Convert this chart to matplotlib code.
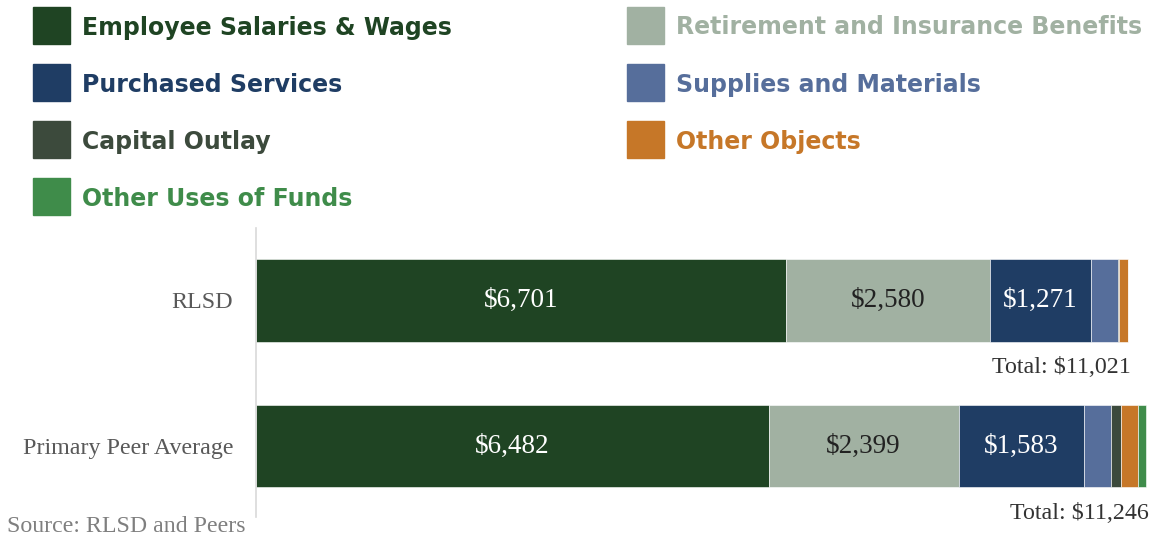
import numpy as np
import matplotlib.pyplot as plt
from matplotlib.patches import Rectangle

# data
districts = ['Primary Peer Average', 'RLSD']
categories = ['Employee Salaries & Wages', 'Retirement and Insurance Benefits',
              'Purchased Services', 'Supplies and Materials', 'Capital Outlay',
              'Other Objects', 'Other Uses of Funds']
rlsd = [6701, 2580, 1271, 340, 12, 117, 0]
peer = [6482, 2399, 1583, 348, 126, 215, 93]
totals = [11246, 11021]
colors = ['#1f4423', '#a1b1a2', '#1f3d64', '#566e9b', '#3c4a3c', '#c67728', '#3f8c4a']
label_colors = ['white', '#222222', 'white']

fig = plt.figure(figsize=(11.55, 5.39), dpi=100)
W, H = 1155, 539
x_max = 11300
px_per_dollar = 0.07917
ax = fig.add_axes([255.5 / W, 1 - 517 / H, x_max * px_per_dollar / W, (517 - 228) / H])

values = np.array([peer, rlsd])
y = np.arange(len(districts))
left = np.zeros(len(districts))
for i, cat in enumerate(categories):
    ax.barh(y, values[:, i], left=left, height=0.57, color=colors[i],
            edgecolor='white', linewidth=0.4)
    if i < 3:
        for j in range(len(districts)):
            ax.text(left[j] + values[j, i] / 2, y[j], f'${values[j, i]:,}',
                    ha='center', va='center', fontsize=19.5,
                    family='Liberation Serif', color=label_colors[i])
    left += values[:, i]

for j in range(len(districts)):
    ax.annotate(f'Total: ${totals[j]:,}', (left[j], y[j] - 0.285),
                xytext=(2, -11), textcoords='offset points', ha='right', va='top',
                fontsize=17.3, family='Liberation Serif', color='#333333')

ax.set_xlim(0, x_max)
ax.set_ylim(-0.488, 1.498)
ax.set_xticks([])
ax.set_yticks(y)
ax.set_yticklabels(districts, fontsize=17.3, family='Liberation Serif', color='#595959')
ax.tick_params(axis='y', length=0, pad=16)
for s in ['top', 'right', 'bottom']:
    ax.spines[s].set_visible(False)
ax.spines['left'].set_color('#d9d9d9')
ax.spines['left'].set_linewidth(1.2)

# legend, two columns
order = [0, 2, 4, 6, 1, 3, 5]
for k, i in enumerate(order):
    col, row = divmod(k, 4)
    x0 = 33 + col * 594
    yc = 25 + row * 57.3
    fig.patches.append(Rectangle((x0 / W, 1 - (yc + 18.5) / H), 37 / W, 37 / H,
                                 transform=fig.transFigure, color=colors[i]))
    fig.text((x0 + 49) / W, 1 - yc / H, categories[i], ha='left', va='center_baseline',
             fontsize=17, fontweight='bold', family='DejaVu Sans', color=colors[i])

fig.text(7 / W, 1 - 527 / H, 'Source: RLSD and Peers', ha='left', va='center',
         fontsize=17.2, family='Liberation Serif', color='#7f7f7f')

fig.savefig('out.png', dpi=100)
